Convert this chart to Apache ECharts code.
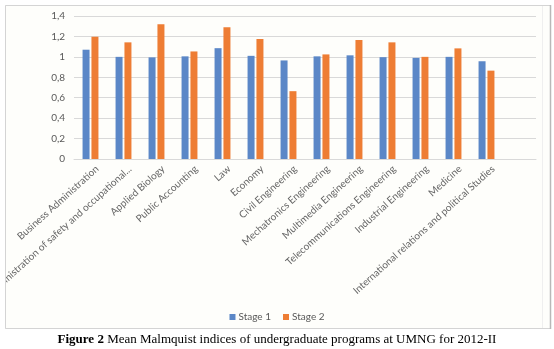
<!DOCTYPE html>
<html><head><meta charset="utf-8">
<script src="https://cdn.jsdelivr.net/npm/echarts@6/dist/echarts.min.js"></script>
<style>html,body{margin:0;padding:0;background:#fff;}#c{width:554px;height:349px;}</style>
</head><body><div id="c"></div>
<script>
const categories = ["Business Administration","Administration of safety and occupational...","Applied Biology","Public Accounting","Law","Economy","Civil Engineering","Mechatronics Engineering","Multimedia Engineering","Telecommunications Engineering","Industrial Engineering","Medicine","International relations and political Studies",""];
const stage1 = [1.07,1.00,0.995,1.005,1.085,1.01,0.965,1.005,1.015,0.997,0.99,1.0,0.957,null];
const stage2 = [1.197,1.142,1.32,1.053,1.29,1.175,0.664,1.024,1.165,1.142,1.0,1.083,0.865,null];
const yTicks = [0,0.2,0.4,0.6,0.8,1,1.2,1.4];
const caption = "Mean Malmquist indices of undergraduate programs at UMNG for 2012-II";

const font = "Lato";
const chart = echarts.init(document.getElementById('c'));
chart.setOption({
  animation:false,
  backgroundColor:'#ffffff',
  graphic:[
    {type:'rect', z:-10, shape:{x:5.5,y:5.5,width:545,height:323}, style:{fill:'#fefefb', stroke:'#d4d4d4', lineWidth:1}},
    {type:'rect', z:100, shape:{x:0,y:150,width:5,height:180}, style:{fill:'#ffffff'}},
    {type:'line', z:101, shape:{x1:5.5,y1:5.5,x2:5.5,y2:328.5}, style:{stroke:'#d4d4d4', lineWidth:1}},
    {type:'line', z:101, shape:{x1:550.5,y1:5,x2:550.5,y2:329}, style:{stroke:'#b8b8b8', lineWidth:1.5}},
    {type:'line', z:101, shape:{x1:542.5,y1:6,x2:542.5,y2:328}, style:{stroke:'#efefef', lineWidth:1}}
  ],
  title:{
    text:'{b|Figure 2} ' + caption,
    left:'center', top:328,
    textStyle:{fontFamily:'Liberation Serif', fontSize:13, fontWeight:'normal', color:'#000',
      rich:{b:{fontFamily:'Liberation Serif', fontSize:13, fontWeight:'bold', color:'#000'}}}
  },
  legend:{
    data:['Stage 1','Stage 2'], left:'center', top:307, itemWidth:6, itemHeight:6, itemGap:12,
    icon:'rect', textStyle:{fontFamily:font, fontSize:10, color:'#595959', padding:[0,0,0,-2]}
  },
  grid:{left:74, right:18, top:16, height:143, containLabel:false, outerBoundsMode:'none'},
  xAxis:{
    type:'category', data:categories,
    axisLine:{lineStyle:{color:'#d9d9d9'}}, axisTick:{show:false},
    axisLabel:{rotate:42, interval:0, margin:1, verticalAlign:'top', lineHeight:20, fontFamily:font, fontSize:10, color:'#666666'}
  },
  yAxis:{
    type:'value', min:0, max:1.4, interval:0.2,
    axisLine:{show:false}, axisTick:{show:false},
    splitLine:{lineStyle:{color:'#d9d9d9'}},
    axisLabel:{margin:9, fontFamily:font, fontSize:10, color:'#595959',
      formatter:v=>{const t=yTicks.find(x=>Math.abs(x-v)<1e-9); return String(+(t!==undefined?t:v).toFixed(1)).replace('.',',');}}
  },
  series:[
    {name:'Stage 1', type:'bar', data:stage1, barWidth:7, barGap:'27%', itemStyle:{color:'#5b87c7'}},
    {name:'Stage 2', type:'bar', data:stage2, barWidth:7, barGap:'27%', itemStyle:{color:'#ee7d34'}}
  ]
});
</script></body></html>
